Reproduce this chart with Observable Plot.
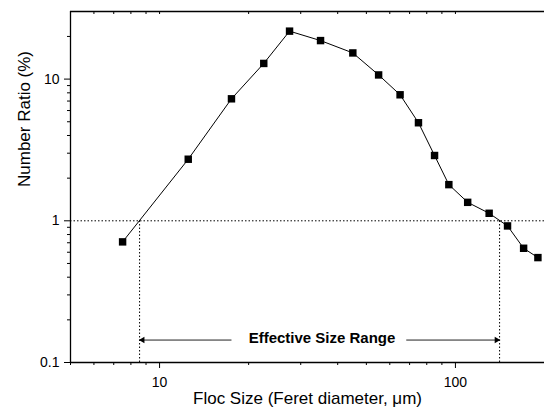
<!DOCTYPE html>
<html>
<head>
<meta charset="utf-8">
<script src="https://cdn.jsdelivr.net/npm/d3@7"></script>
<script src="https://cdn.jsdelivr.net/npm/@observablehq/plot@0.6"></script>
<style>
  html, body { margin: 0; padding: 0; background: #fff; }
</style>
</head>
<body>
<div id="chart"></div>
<script>
// Floc size (Feret diameter, µm) and number ratio (%)
const sizes  = [7.5, 12.5, 17.5, 22.5, 27.5, 35, 45, 55, 65, 75, 85, 95, 110, 130, 150, 170, 190];
const ratios = [0.71, 2.72, 7.26, 12.9, 21.8, 18.7, 15.3, 10.7, 7.75, 4.92, 2.89, 1.80, 1.35, 1.13, 0.92, 0.64, 0.55];

const xDomain = [5, 200];
const yDomain = [0.1, 30];
const xMajor = [10, 100];
const xMinor = [5, 6, 7, 8, 9, 20, 30, 40, 50, 60, 70, 80, 90];
const yMajor = [0.1, 1, 10];
const yMinor = [0.2, 0.3, 0.4, 0.5, 0.6, 0.7, 0.8, 0.9, 2, 3, 4, 5, 6, 7, 8, 9, 20];

// effective size range annotation
const threshold = [1];
const rangeBounds = [8.56, 141];
const arrowY = 0.144;
const leftArrow = [{x1: 17.5, x2: 8.56}];
const rightArrow = [{x1: 68.2, x2: 141}];
const rangeLabel = [{x: 35.4, text: "Effective Size Range"}];

const xTitle = "Floc Size (Feret diameter, \u03bcm)";
const yTitle = "Number Ratio (%)";

const data = sizes.map((s, i) => ({size: s, ratio: ratios[i]}));

const font = "Arial, 'Liberation Sans', sans-serif";

const chart = Plot.plot({
  width: 544,
  height: 410,
  marginLeft: 70,
  marginRight: 0,
  marginTop: 11,
  marginBottom: 48,
  style: {fontFamily: font, fontSize: "14px", color: "#000", background: "#fff"},
  x: {type: "log", domain: xDomain},
  y: {type: "log", domain: yDomain},
  marks: [
    // dotted threshold and range bounds
    Plot.ruleY(threshold, {stroke: "#000", strokeDasharray: "1.5,2", strokeWidth: 1}),
    Plot.ruleX(rangeBounds, {y1: yDomain[0], y2: threshold[0], stroke: "#000", strokeDasharray: "1.5,2", strokeWidth: 1}),
    // axes
    Plot.axisX({ticks: xMajor, tickSize: 6, tickPadding: 9, tickFormat: d => String(d), label: null, fontSize: 14}),
    Plot.axisX({ticks: xMinor, tickSize: 3, tickFormat: () => "", label: null}),
    Plot.axisX({anchor: "top", ticks: xMinor.concat(xMajor), tickSize: 2, dy: 2, tickFormat: () => "", label: null}),
    Plot.axisY({ticks: yMajor, tickSize: 6, tickPadding: 5, tickFormat: d => String(d), label: null, fontSize: 14}),
    Plot.axisY({ticks: yMinor, tickSize: 3, tickFormat: () => "", label: null}),
    // frame lines
    Plot.ruleX([xDomain[0]], {stroke: "#000", strokeWidth: 1.3}),
    Plot.ruleY([yDomain[0]], {stroke: "#000", strokeWidth: 1.3}),
    Plot.ruleY([yDomain[1]], {stroke: "#000", strokeWidth: 1.3}),
    // data
    Plot.line(data, {x: "size", y: "ratio", stroke: "#000", strokeWidth: 1}),
    Plot.dot(data, {x: "size", y: "ratio", symbol: "square", r: 4.2, fill: "#000", stroke: "none"}),
    // arrows
    Plot.link(leftArrow.concat(rightArrow), {x1: "x1", x2: "x2", y1: () => arrowY, y2: () => arrowY, stroke: "#222", strokeWidth: 1}),
    Plot.dot(leftArrow, {x: "x2", y: () => arrowY, symbol: "triangle", rotate: -90, r: 2.4, dx: 3, fill: "#000", stroke: "none"}),
    Plot.dot(rightArrow, {x: "x2", y: () => arrowY, symbol: "triangle", rotate: 90, r: 2.4, dx: -3, fill: "#000", stroke: "none"}),
    Plot.text(rangeLabel, {x: "x", y: () => arrowY, text: "text", fontWeight: "bold", fontSize: 15, dy: -2, textAnchor: "middle", lineAnchor: "middle", fill: "#000"}),
    // axis titles
    Plot.text([xTitle], {text: d => d, frameAnchor: "bottom", dy: 36, lineAnchor: "middle", fontSize: 17, fill: "#000"}),
    Plot.text([yTitle], {text: d => d, frameAnchor: "left", dx: -46, rotate: -90, lineAnchor: "middle", fontSize: 17, fill: "#000"})
  ]
});

document.getElementById("chart").appendChild(chart);
</script>
</body>
</html>
